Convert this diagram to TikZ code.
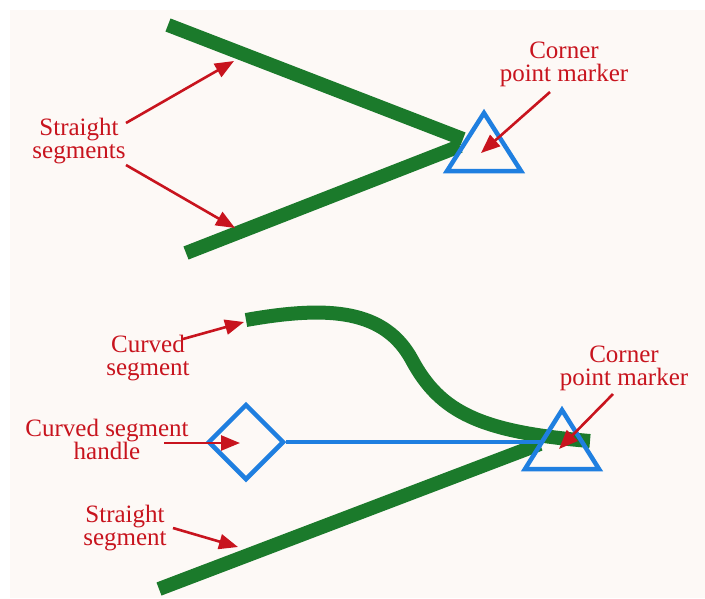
\documentclass[tikz,border=0pt]{standalone}
\usepackage{fontspec}
\setmainfont{Liberation Serif}
\usetikzlibrary{arrows.meta,shapes.geometric}
\definecolor{bgc}{HTML}{FDF9F6}
\definecolor{segc}{HTML}{1B7A2B}
\definecolor{markc}{HTML}{1F7FE0}
\definecolor{labc}{HTML}{C8141E}
\begin{document}
\begin{tikzpicture}[x=1pt,y=-1pt,
  seg/.style={draw=segc,line width=14pt,line cap=butt},
  markbox/.style={draw=markc,line width=4.5pt,line join=miter},
  handleline/.style={draw=markc,line width=4.5pt},
  lab/.style={text=labc,font=\fontsize{25}{23}\selectfont,align=center,inner sep=0pt,anchor=base},
  pointer/.style={draw=labc,line width=2.6pt,-{Triangle[length=19pt,width=15pt]}}]
\useasboundingbox (0,0) rectangle (705,598);
\fill[white] (0,0) rectangle (705,598);
\fill[bgc] (10,10) rectangle (705,598);
% ---- top figure
\coordinate (u1) at (168,25);
\coordinate (u2) at (463,139);
\coordinate (l1) at (186,253);
\coordinate (l2) at (460,146);
\draw[seg] (u1) -- (u2);
\draw[seg] (l1) -- (l2);
\draw[markbox] (484,113) -- (447,171) -- (521,171) -- cycle;
\coordinate (tri1) at (481,153);
\node[lab] (ss) at (79,158) {Straight\\segments};
\node[lab] (cp1) at (564,81) {Corner\\point marker};
\coordinate (a1s) at (126,123);
\coordinate (a1e) at (234,61);
\coordinate (a2s) at (126,165);
\coordinate (a2e) at (235,228);
\draw[pointer] (a1s) -- (a1e);
\draw[pointer] (a2s) -- (a2e);
\coordinate (a3s) at (550,92);
\draw[pointer] (a3s) -- (tri1);
% ---- bottom figure
\coordinate (c1) at (246,320);
\coordinate (c2) at (590,441);
\draw[seg] (c1) .. controls (330,305) and (385,310) .. (412,360)
  .. controls (440,412) and (480,432) .. (c2);
\coordinate (s1) at (159,589);
\coordinate (s2) at (540,444);
\draw[seg] (s1) -- (s2);
\node[draw=markc,line width=4.5pt,diamond,aspect=1,minimum width=76pt,minimum height=76pt,inner sep=0pt] (hd) at (246,442) {};
\coordinate (tl) at (542,442);
\draw[handleline] (hd.east) -- (tl);
\draw[markbox] (562,410) -- (525,469) -- (599,469) -- cycle;
\coordinate (tri2) at (559,449);
\node[lab] (cs) at (148,375) {Curved\\segment};
\node[lab] (ch) at (107,459) {Curved segment\\handle};
\node[lab] (st) at (125,545) {Straight\\segment};
\node[lab] (cp2) at (624,385) {Corner\\point marker};
\coordinate (b1s) at (183,339);
\coordinate (b1e) at (244,322);
\coordinate (b2s) at (164,443);
\coordinate (b2e) at (240,443);
\coordinate (b3s) at (173,528);
\coordinate (b3e) at (238,547);
\coordinate (b4s) at (613,394);
\draw[pointer] (b1s) -- (b1e);
\draw[pointer] (b2s) -- (b2e);
\draw[pointer] (b3s) -- (b3e);
\draw[pointer] (b4s) -- (tri2);
\end{tikzpicture}
\end{document}
